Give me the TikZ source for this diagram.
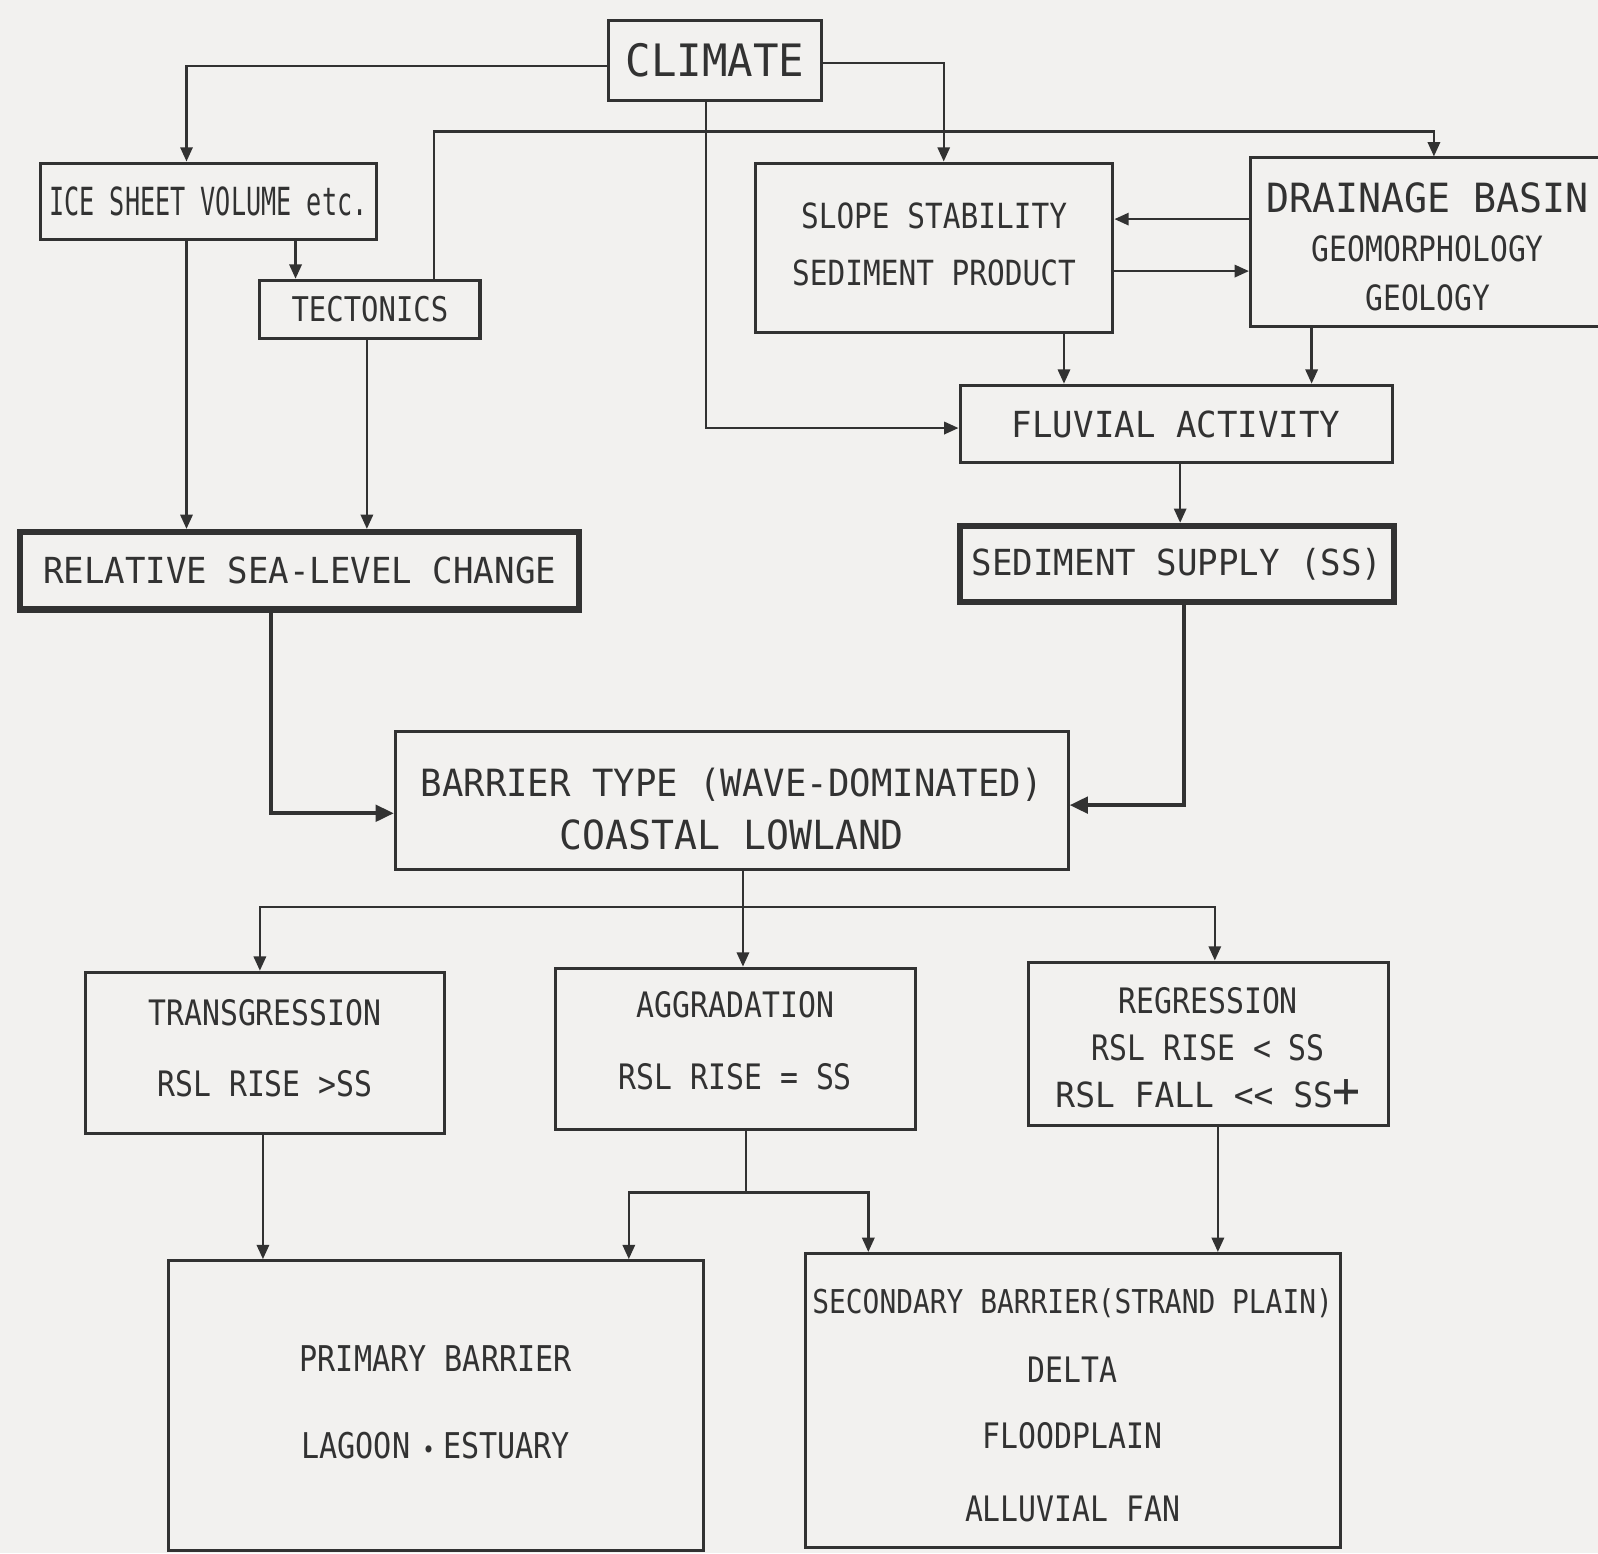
\documentclass[tikz,border=0pt]{standalone}
\usepackage{fontspec}
\usetikzlibrary{arrows.meta,calc}
\newfontfamily\boxfont{DejaVu Sans Mono}[FakeStretch=0.85]
\newfontfamily\wideboxfont{DejaVu Sans Mono}[FakeStretch=0.95]
\newfontfamily\narrowboxfont{DejaVu Sans Mono}[FakeStretch=0.65]
\newcommand\fsz[2]{\fontsize{#1}{#2}\selectfont}
\newcommand\topstrut[1]{\rule{0pt}{#1}}
\definecolor{bg}{RGB}{242,241,239}
\definecolor{ink}{RGB}{50,50,50}
\begin{document}
\begin{tikzpicture}[x=0.5pt,y=-0.5pt,
  box/.style={draw=ink, line width=1.5pt, rectangle, inner sep=0pt, text=ink, align=center, font=\boxfont\fsz{17.2}{28}},
  heavybox/.style={box, line width=3pt},
  sz/.style 2 args={minimum width={#1*0.5pt}, minimum height={#2*0.5pt}},
  conn/.style={draw=ink, line width=1.2pt, -{Triangle[length=7pt,width=6pt]}},
  heavyconn/.style={draw=ink, line width=2pt, -{Triangle[length=9pt,width=8pt]}},
  plain/.style={draw=ink, line width=1.2pt}]
\useasboundingbox (0,0) rectangle (1568,1524);
\fill[bg] (0,0) rectangle (1568,1524);
\clip (0,0) rectangle (1568,1524);

% boxes
\node[box, sz={209}{79}, font=\wideboxfont\fsz{21.9}{26}] (climate) at (701.5,59.5) {CLIMATE};
\node[box, sz={329}{75}, font=\narrowboxfont\fsz{19}{22}] (ice) at (204.5,197.5) {ICE SHEET VOLUME etc.};
\node[box, sz={216}{57}, font=\boxfont\fsz{16.7}{20}] (tect) at (363,303.5) {TECTONICS};
\node[box, sz={351}{166}, font=\boxfont\fsz{17}{28}, text depth=3pt] (slope) at (916.5,243) {SLOPE STABILITY\\SEDIMENT PRODUCT};
\node[box, sz={348}{165}, font=\boxfont\fsz{17.1}{24}] (drain) at (1401,237.5) {{\wideboxfont\fsz{19.75}{24}\topstrut{19.6pt}DRAINAGE BASIN}\\GEOMORPHOLOGY\\GEOLOGY};
\node[box, sz={424}{76}, font=\wideboxfont\fsz{17.6}{22}] (fluv) at (1154,416) {FLUVIAL ACTIVITY};
\node[heavybox, sz={548}{76}, font=\wideboxfont\fsz{17.6}{22}] (rsl) at (294,560) {RELATIVE SEA-LEVEL CHANGE};
\node[heavybox, sz={426}{75}, font=\wideboxfont\fsz{17.6}{22}] (ss) at (1155,553.5) {SEDIMENT SUPPLY (SS)};
\node[box, sz={660}{135}, font=\wideboxfont\fsz{18.4}{26}] (barrier) at (718,785.5) {\topstrut{22pt}BARRIER TYPE (WAVE-DOMINATED)\\{\fsz{19.7}{26}COASTAL LOWLAND}};
\node[box, sz={352}{158}, font=\boxfont\fsz{17.2}{35}, text depth=5pt] (trans) at (260,1033) {TRANSGRESSION\\RSL RISE >SS};
\node[box, sz={353}{158}, font=\boxfont\fsz{17.2}{35}, text depth=8pt] (agg) at (721.5,1029) {AGGRADATION\\RSL RISE = SS};
\node[box, sz={353}{160}, font=\boxfont\fsz{17.2}{23}] (reg) at (1185.5,1024) {\topstrut{16.5pt}REGRESSION\\RSL RISE < SS\\{\wideboxfont\fsz{17}{23}RSL FALL << SS\fsz{24}{23}+}};
\node[box, sz={525}{284}, font=\boxfont\fsz{17.4}{42.5}, text depth=3pt] (prim) at (427.5,1379) {PRIMARY BARRIER\\LAGOON\hspace{6pt}{\fsz{12}{12}•}\hspace{4pt}ESTUARY};
\node[box, sz={525}{288}, font=\boxfont\fsz{17.2}{34}] (sec) at (1052.5,1374) {{\fsz{16.1}{34}\topstrut{17pt}SECONDARY BARRIER(STRAND PLAIN)}\\DELTA\\[-1.5pt]FLOODPLAIN\\[1.5pt]ALLUVIAL FAN};

% connectors from climate
\draw[conn] ([yshift=-2.75pt]climate.west) -| ([xshift=-10.75pt]ice.north);
\draw[conn] ([yshift=-1.25pt]climate.east) -| ([xshift=4.75pt]slope.north);
\coordinate (tj) at (426,129);
\draw[conn] ([xshift=31.5pt]tect.north) -- (tj) -| ([xshift=3pt]drain.north);
\draw[conn] ([xshift=-4.25pt]climate.south) |- ([yshift=-2pt]fluv.west);

% left column
\draw[conn] ([xshift=42.75pt]ice.south) -- ([xshift=42.75pt]ice.south |- tect.north);
\draw[conn] ([xshift=-10.75pt]ice.south) -- ([xshift=-10.75pt]ice.south |- rsl.north);
\draw[conn] ([xshift=-1.5pt]tect.south) -- ([xshift=-1.5pt]tect.south |- rsl.north);

% right column
\draw[conn] ([yshift=11.25pt]drain.west) -- ([yshift=11.25pt]drain.west -| slope.east);
\draw[conn] ([yshift=-11.5pt]slope.east) -- ([yshift=-11.5pt]slope.east -| drain.west);
\draw[conn] ([xshift=63.75pt]slope.south) -- ([xshift=63.75pt]slope.south |- fluv.north);
\draw[conn] ([xshift=-57pt]drain.south) -- ([xshift=-57pt]drain.south |- fluv.north);
\draw[conn] ([xshift=2pt]fluv.south) -- ([xshift=2pt]fluv.south |- ss.north);

% into barrier
\draw[heavyconn] ([xshift=3.5pt]ss.south) |- ([yshift=-2.25pt]barrier.east);
\draw[heavyconn] ([xshift=-14pt]rsl.south) |- ([yshift=-6.25pt]barrier.west);

% out of barrier
\coordinate (bj) at (729,890);
\draw[plain] ([xshift=5.5pt]barrier.south) -- (bj);
\draw[conn] (bj) -- (bj |- agg.north);
\draw[conn] (bj) -| ([xshift=-2.5pt]trans.north);
\draw[conn] (bj) -| ([xshift=3.25pt]reg.north);

% to bottom boxes
\draw[conn] ([xshift=-1pt]trans.south) -- ([xshift=-1pt]trans.south |- prim.north);
\coordinate (aj) at (732,1170);
\draw[plain] ([xshift=5.25pt]agg.south) -- (aj);
\draw[conn] (aj) -| ([xshift=94.75pt]prim.north);
\draw[conn] (aj) -| ([xshift=-100.25pt]sec.north);
\draw[conn] ([xshift=4.75pt]reg.south) -- ([xshift=4.75pt]reg.south |- sec.north);
\end{tikzpicture}
\end{document}
